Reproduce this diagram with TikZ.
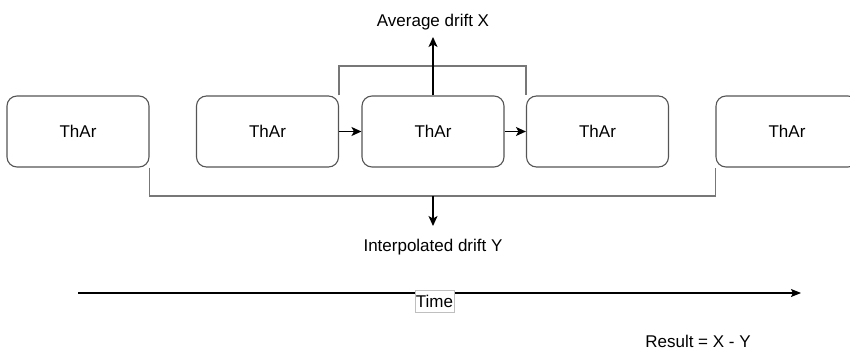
\documentclass[tikz,border=0pt]{standalone}
\usepackage{fontspec}
\setmainfont{Liberation Sans}
\usetikzlibrary{arrows.meta}
\definecolor{boxgray}{HTML}{555555}
\definecolor{linegray}{HTML}{777777}
\tikzset{
  thar/.style={draw=boxgray, line width=1.1pt, rounded corners=10pt, minimum width=142pt, minimum height=71pt, inner sep=0pt, font=\fontsize{17pt}{20pt}\selectfont},
  lbl/.style={inner sep=0pt, font=\fontsize{17pt}{20pt}\selectfont},
  bracket/.style={draw=linegray, line width=1.4pt},
  arr/.style={draw=black, line width=1.3pt, -{Stealth[length=10pt,width=9pt,inset=2.5pt]}},
}
\begin{document}
\begin{tikzpicture}[x=1pt,y=-1pt]
\useasboundingbox (0,0) rectangle (850,350);
\node[thar] (b1) at (78,131.5) {ThAr};
\node[thar] (b2) at (267.5,131.5) {ThAr};
\node[thar] (b3) at (433,131.5) {ThAr};
\node[thar] (b4) at (597.5,131.5) {ThAr};
\node[thar] (b5) at (787,131.5) {ThAr};
\draw[arr] (b2.east) -- (b3.west);
\draw[arr] (b3.east) -- (b4.west);
\coordinate (topmid) at (433,66);
\draw[bracket] (b2.north east) |- (topmid) -| (b4.north west);
\node[lbl] (avg) at (433,22) {Average drift X};
\coordinate (avgtip) at (433,37);
\draw[arr] (b3.north) -- (avgtip);
\coordinate (botmid) at (433,196);
\draw[bracket] (b1.south east) |- (botmid) -| (b5.south west);
\coordinate (interptip) at (433,226);
\draw[arr] (botmid) -- (interptip);
\node[lbl] (interp) at (433,247) {Interpolated drift Y};
\coordinate (tstart) at (78,293);
\coordinate (tend) at (801,293);
\draw[draw=black, line width=1.1pt, -{Stealth[length=10pt,width=8pt,inset=2pt]}] (tstart) -- (tend);
\node[lbl, draw=lightgray, line width=0.6pt, fill=white, inner xsep=1pt, minimum height=22pt] (time) at (434.5,301) {Time};
\node[lbl] (res) at (698,341) {Result = X - Y};
\end{tikzpicture}
\end{document}
